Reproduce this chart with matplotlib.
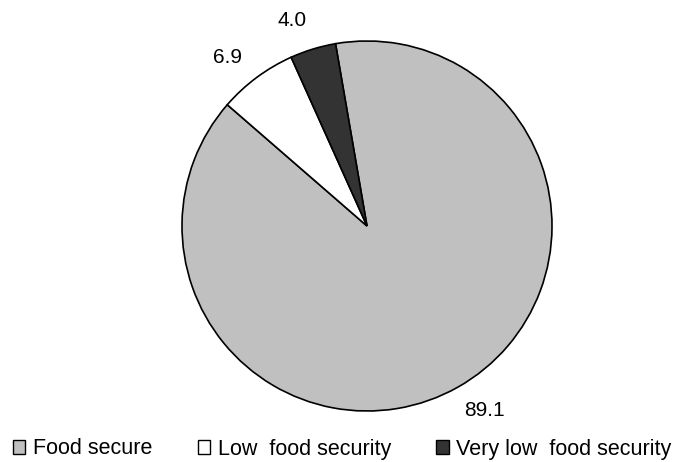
import numpy as np
import matplotlib.pyplot as plt
from matplotlib.patches import Patch

plt.rcParams['font.family'] = ['Liberation Sans', 'DejaVu Sans']

# данные
categories = ['Food secure', 'Low  food security', 'Very low  food security']
values = [89.1, 6.9, 4.0]
colors = ['#c0c0c0', '#ffffff', '#333333']

fig = plt.figure(figsize=(6.73, 4.62), dpi=100)
cx, cy, r = 367, 226, 185
ax = fig.add_axes([(cx - r) / 673, (462 - cy - r) / 462, 2 * r / 673, 2 * r / 462])

wedges, texts = ax.pie(values, colors=colors, startangle=99.8, counterclock=False,
                       labels=['%.1f' % v for v in values], labeldistance=1.18,
                       wedgeprops=dict(edgecolor='black', linewidth=1.2),
                       textprops=dict(fontsize=15))
# подписи чуть смещены по часовой стрелке, как в Excel
for w, t in zip(wedges, texts):
    ang = np.deg2rad((w.theta1 + w.theta2) / 2 + 3)
    t.set_position((1.18 * np.cos(ang), 1.18 * np.sin(ang)))
    t.set_ha('center')
    t.set_va('center')

ax.set_xlim(-1, 1)
ax.set_ylim(-1, 1)
ax.set_aspect('equal')

handles = [Patch(facecolor=c, edgecolor='black', linewidth=1) for c in colors]
fig.legend(handles, categories, loc='center left', bbox_to_anchor=(13 / 673, 1 - 449 / 462),
           ncol=3, frameon=False, fontsize=15.5, borderpad=0, borderaxespad=0,
           handlelength=0.58, handleheight=0.58, handletextpad=0.35, columnspacing=2.1)

fig.savefig('out.png', dpi=100)
